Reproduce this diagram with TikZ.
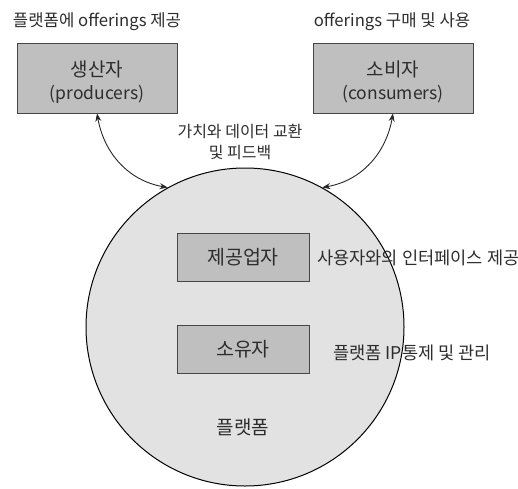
\documentclass[tikz,border=0pt]{standalone}
\usepackage{fontspec}
\setmainfont{Noto Sans CJK KR}
\usetikzlibrary{arrows.meta}
\definecolor{txt}{RGB}{45,45,45}
\definecolor{boxfill}{RGB}{191,191,191}
\definecolor{platfill}{RGB}{226,226,226}
\definecolor{edge}{RGB}{70,70,70}
\tikzset{
  lbl/.style={text=txt, font=\fontsize{16.7}{21}\selectfont, inner sep=0pt, align=center},
  sidelbl/.style={text=txt, font=\fontsize{17.6}{21}\selectfont, inner sep=0pt, anchor=west},
  boxtxt/.style={text=txt, inner sep=0pt, align=center, font=\fontsize{19}{23}\selectfont},
  bigbox/.style={draw=edge, line width=0.9pt, fill=boxfill, minimum width=160pt, minimum height=70pt, inner sep=0pt},
  smallbox/.style={draw=edge, line width=0.9pt, fill=boxfill, minimum width=132pt, minimum height=48pt, inner sep=0pt, text=txt, font=\fontsize{19.5}{23}\selectfont},
  plat/.style={draw=black, line width=1pt, fill=platfill, circle, minimum size=318pt, inner sep=0pt},
  link/.style={draw=black!85, line width=0.9pt, {Stealth[length=8pt,width=6pt]}-{Stealth[length=8pt,width=6pt]}}
}
\begin{document}
\begin{tikzpicture}[x=1pt,y=1pt]
\useasboundingbox (0,0) rectangle (518,488);
\node[plat] (platform) at (245,161) {};
\node[bigbox] (prod) at (97,410) {};
\node[bigbox] (cons) at (393,410) {};
\node[boxtxt] (prodtxt) at (97,406) {생산자\\{\fontsize{17.5}{23}\selectfont(producers)}};
\node[boxtxt] (constxt) at (393,406) {소비자\\{\fontsize{17.5}{23}\selectfont(consumers)}};
\node[lbl] (t1) at (97,466) {플랫폼에 offerings 제공};
\node[lbl] (t2) at (392,466) {offerings 구매 및 사용};
\node[lbl, font=\fontsize{16}{21}\selectfont] (mid) at (240,346) {가치와 데이터 교환\\및 피드백};
\node[smallbox] (provider) at (243,231) {제공업자};
\node[smallbox] (owner) at (243,138.5) {소유자};
\node[sidelbl] (l1) at (317,230) {사용자와의 인터페이스 제공};
\node[sidelbl] (l2) at (333,135) {플랫폼 IP통제 및 관리};
\node[lbl, font=\fontsize{19}{23}\selectfont] (pname) at (243,61) {플랫폼};
\draw[link] (prod.south) to[out=-80,in=170] (platform.119.5);
\draw[link] (cons.south) to[out=-100,in=10] (platform.61);
\end{tikzpicture}
\end{document}
